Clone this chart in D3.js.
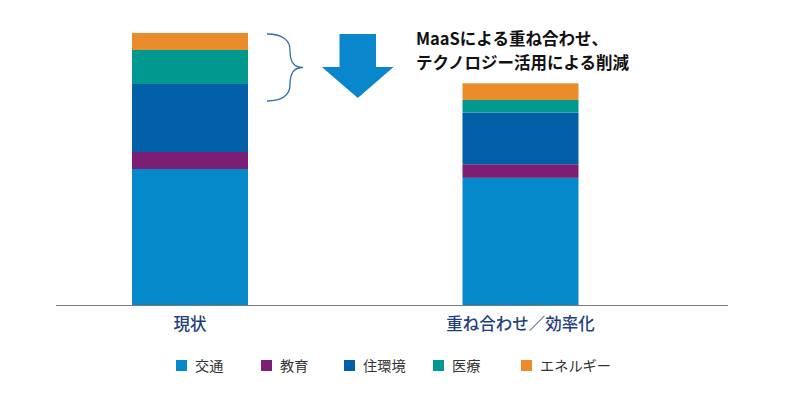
<!DOCTYPE html>
<html lang="ja">
<head>
<meta charset="utf-8">
<title>MaaS chart</title>
<script src="https://cdn.jsdelivr.net/npm/d3@7"></script>
<style>
  body { margin: 0; background: #fff; }
  svg text { font-family: "Noto Sans CJK JP", "Noto Sans", sans-serif; }
</style>
</head>
<body>
<svg id="chart" width="787" height="395"></svg>
<script>
// categories (x)
var categories = ["現状", "重ね合わせ／効率化"];
// stack series, bottom to top
var series = ["交通", "教育", "住環境", "医療", "エネルギー"];
var colors = ["#0689cb", "#7c1f74", "#005fa6", "#00988f", "#ea8c2c"];
// values per series, one per category
var kotsu   = [40, 37.4];
var kyoiku  = [5, 4.0];
var jukankyo = [20, 15.2];
var iryo    = [10, 3.7];
var energy  = [5, 4.9];

var annotation = ["MaaSによる重ね合わせ、", "テクノロジー活用による削減"];

var svg = d3.select("#chart");

var rows = categories.map(function(c, i) {
  return { cat: c, "交通": kotsu[i], "教育": kyoiku[i], "住環境": jukankyo[i], "医療": iryo[i], "エネルギー": energy[i] };
});

var stacked = d3.stack().keys(series)(rows);

var x = d3.scalePoint().domain(categories).range([190, 520.5]);
var barW = 116;
var y = d3.scaleLinear().domain([0, 80]).range([305, 33]);

var color = d3.scaleOrdinal().domain(series).range(colors);

// bars
svg.selectAll("g.layer")
  .data(stacked)
  .enter()
  .append("g")
  .attr("class", "layer")
  .attr("fill", function(d) { return color(d.key); })
  .selectAll("rect")
  .data(function(d) { return d; })
  .enter()
  .append("rect")
  .attr("x", function(d) { return x(d.data.cat) - barW / 2; })
  .attr("y", function(d) { return y(d[1]); })
  .attr("width", barW)
  .attr("height", function(d) { return y(d[0]) - y(d[1]); });

// baseline
svg.append("line")
  .attr("x1", 56).attr("x2", 728)
  .attr("y1", y(0) + 0.5).attr("y2", y(0) + 0.5)
  .attr("stroke", "#7a7a7a")
  .attr("stroke-width", 1.2);

// category labels
svg.selectAll("text.cat")
  .data(categories)
  .enter()
  .append("text")
  .attr("class", "cat")
  .attr("x", function(d) { return x(d); })
  .attr("y", 330)
  .attr("text-anchor", "middle")
  .attr("font-size", 16.5)
  .attr("font-weight", 500)
  .attr("fill", "#1f3f7c")
  .text(function(d) { return d; });

// brace next to the part that gets reduced
var bTop = y(80) + 1, bBot = 101, bMid = (bTop + bBot) / 2;
svg.append("path")
  .attr("d", "M267," + bTop +
       " C282," + bTop + " 290," + (bTop + 6) + " 290," + (bTop + 16) +
       " C290," + (bMid - 5) + " 294," + bMid + " 303," + bMid +
       " C294," + bMid + " 290," + (bMid + 5) + " 290," + (bBot - 16) +
       " C290," + (bBot - 6) + " 282," + bBot + " 267," + bBot)
  .attr("fill", "none")
  .attr("stroke", "#2d6db4")
  .attr("stroke-width", 1.3);

// down arrow
svg.append("path")
  .attr("d", "M339.5,34 L376,34 L376,67 L393.5,67 L357.8,98 L321.8,67 L339.5,67 Z")
  .attr("fill", "#0a86cc");

// annotation text
svg.selectAll("text.note")
  .data(annotation)
  .enter()
  .append("text")
  .attr("class", "note")
  .attr("x", 416)
  .attr("y", function(d, i) { return 45 + i * 23.5; })
  .attr("font-size", 16.5)
  .attr("font-weight", 700)
  .attr("fill", "#111")
  .text(function(d) { return d; });

// legend
var legendX = [176, 261, 344, 433, 521];
var leg = svg.selectAll("g.leg")
  .data(series)
  .enter()
  .append("g")
  .attr("class", "leg")
  .attr("transform", function(d, i) { return "translate(" + legendX[i] + ",360)"; });

leg.append("rect")
  .attr("width", 11)
  .attr("height", 11)
  .attr("fill", function(d) { return color(d); });

leg.append("text")
  .attr("x", 19)
  .attr("y", 10.5)
  .attr("font-size", 14.2)
  .attr("fill", "#333")
  .text(function(d) { return d; });
</script>
</body>
</html>
